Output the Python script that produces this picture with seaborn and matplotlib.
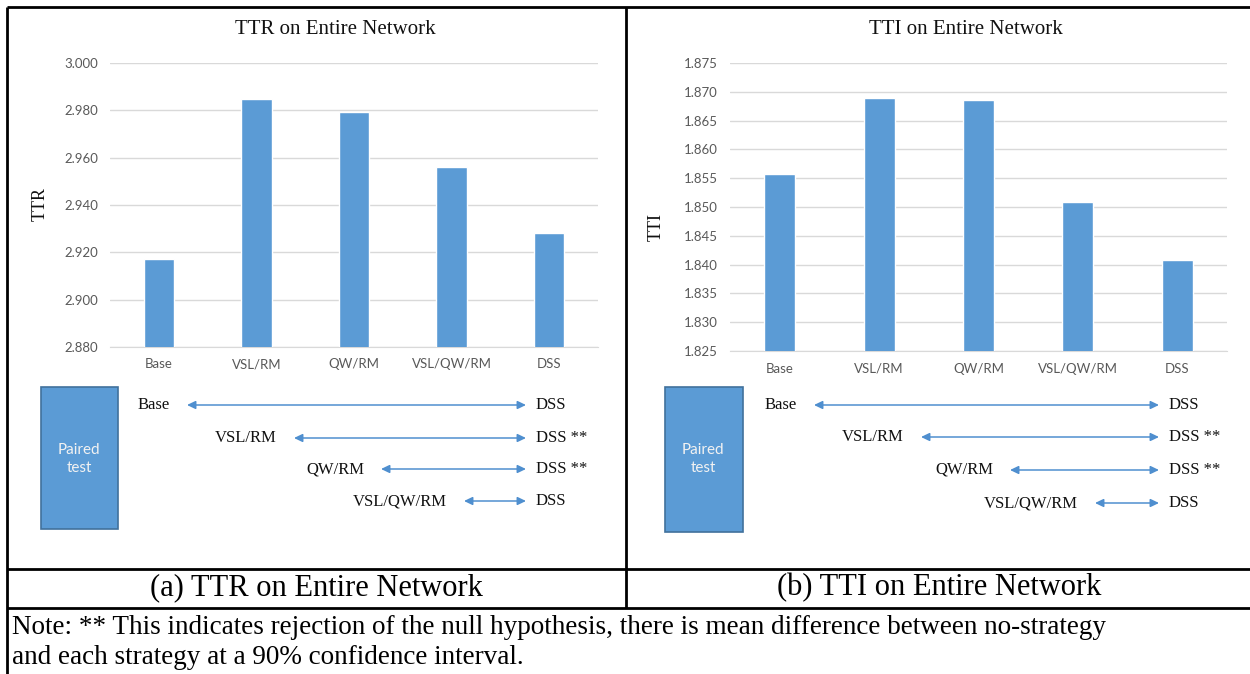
import matplotlib
matplotlib.use("Agg")
import matplotlib.pyplot as plt
import seaborn as sns
import pandas as pd

# ---------------- data ----------------
categories = ["Base", "VSL/RM", "QW/RM", "VSL/QW/RM", "DSS"]
ttr_values = [2.917, 2.985, 2.9795, 2.956, 2.928]
tti_values = [1.8557, 1.8689, 1.8686, 1.8508, 1.8408]
ttr_ticks = [2.880, 2.900, 2.920, 2.940, 2.960, 2.980, 3.000]
tti_ticks = [1.825, 1.830, 1.835, 1.840, 1.845, 1.850, 1.855, 1.860, 1.865, 1.870, 1.875]
pair_left = ["Base", "VSL/RM", "QW/RM", "VSL/QW/RM"]
pair_right = ["DSS", "DSS", "DSS", "DSS"]
significant = [False, True, True, False]
panel_titles = ["TTR on Entire Network", "TTI on Entire Network"]
panel_ylabels = ["TTR", "TTI"]
captions = ["(a) TTR on Entire Network", "(b) TTI on Entire Network"]
note_lines = ["Note: ** This indicates rejection of the null hypothesis, there is mean difference between no-strategy",
              "and each strategy at a 90% confidence interval."]

# ---------------- style ----------------
sns.set_style("white")
plt.rcParams["font.family"] = ["Lato", "DejaVu Sans"]
BAR = "#5B9BD5"
GRID = "#D9D9D9"
TICK = "#595959"
SERIF = "Liberation Serif"

W, H = 1250, 674
fig = plt.figure(figsize=(W / 100, H / 100), dpi=100)
fig.patch.set_facecolor("white")

# overlay in pixel coordinates (for table frame and annotations)
ov = fig.add_axes([0, 0, 1, 1])
ov.set_xlim(0, W)
ov.set_ylim(H, 0)
ov.axis("off")
ov.patch.set_alpha(0)


def px_axes(x0, y0, x1, y1):
    return fig.add_axes([x0 / W, 1 - y1 / H, (x1 - x0) / W, (y1 - y0) / H])


panels = [
    dict(box=(110, 63, 598, 347), vals=ttr_values, ticks=ttr_ticks, off=0,
         title_x=335, ylab=(40, 204), starts=[187, 294, 381, 464], end=526,
         pbox=(41, 387, 118, 529), ptext=(79, 459), rows=[405, 438, 469, 501],
         xpad=8.0),
    dict(box=(730, 63, 1227, 351), vals=tti_values, ticks=tti_ticks, off=625,
         title_x=966, ylab=(656, 227), starts=[814, 921, 1010, 1095], end=1159,
         pbox=(665, 387, 743, 532), ptext=(703, 459), rows=[405, 437, 470, 503],
         xpad=8.6),
]

for i, p in enumerate(panels):
    ax = px_axes(*p["box"])
    df = pd.DataFrame({"cat": categories, "val": p["vals"]})
    sns.barplot(data=df, x="cat", y="val", color=BAR, width=0.31, ax=ax,
                saturation=1, zorder=3)
    ax.set_ylim(p["ticks"][0], p["ticks"][-1])
    ax.set_yticks(p["ticks"])
    ax.set_yticklabels([f"{t:.3f}" for t in p["ticks"]])
    ax.set_xlim(-0.5, len(categories) - 0.5)
    ax.set_xlabel("")
    ax.set_ylabel("")
    ax.grid(axis="y", color=GRID, linewidth=1, zorder=0)
    ax.set_axisbelow(True)
    for s in ["top", "right", "left"]:
        ax.spines[s].set_visible(False)
    ax.spines["bottom"].set_color(GRID)
    ax.tick_params(axis="both", length=0, colors=TICK, labelsize=9.5)
    ax.tick_params(axis="x", pad=p["xpad"])
    ax.tick_params(axis="y", pad=8.6)
    ax.patch.set_alpha(0)

    # title and y label
    ov.text(p["title_x"], 30, panel_titles[i], family=SERIF, fontsize=15,
            ha="center", va="center", color="#111111")
    ov.text(p["ylab"][0], p["ylab"][1], panel_ylabels[i], family=SERIF, fontsize=13,
            rotation=90, ha="center", va="center", color="#111111")

    # paired test box
    x0, y0, x1, y1 = p["pbox"]
    ov.add_patch(plt.Rectangle((x0, y0), x1 - x0, y1 - y0, facecolor=BAR,
                               edgecolor="#41719C", linewidth=1.2))
    ov.text(p["ptext"][0], p["ptext"][1], "Paired\ntest", color="#F2F2F2",
            fontsize=11, ha="center", va="center", linespacing=1.45)

    for j, (lab, rlab, sig) in enumerate(zip(pair_left, pair_right, significant)):
        y = p["rows"][j]
        xs = p["starts"][j]
        ov.annotate("", xy=(p["end"], y), xytext=(xs, y),
                    arrowprops=dict(arrowstyle="<|-|>,head_length=0.5,head_width=0.24",
                                    color="#4F8FCF", lw=1.1, shrinkA=0, shrinkB=0))
        ov.text(xs - 17, y, lab, family=SERIF, fontsize=12, ha="right",
                va="center", color="#111111")
        ov.text(p["end"] + 10, y, rlab + (" **" if sig else ""), family=SERIF,
                fontsize=12, ha="left", va="center", color="#111111")

    ov.text(p["off"] + (316 if i == 0 else 314), 588, captions[i], family=SERIF,
            fontsize=22, ha="center", va="center", color="black")

# table frame
lw = 2
ov.plot([7, W], [7, 7], color="black", lw=lw, solid_capstyle="butt")
ov.plot([7, 7], [7, H], color="black", lw=lw, solid_capstyle="butt")
ov.plot([626, 626], [7, 608], color="black", lw=lw, solid_capstyle="butt")
ov.plot([7, W], [569, 569], color="black", lw=lw, solid_capstyle="butt")
ov.plot([7, W], [608, 608], color="black", lw=lw, solid_capstyle="butt")

ov.text(12, 627, note_lines[0], family=SERIF, fontsize=19.5, ha="left", va="center", color="black")
ov.text(12, 658, note_lines[1], family=SERIF, fontsize=19.5, ha="left", va="center", color="black")

fig.savefig("out.png", dpi=100)
